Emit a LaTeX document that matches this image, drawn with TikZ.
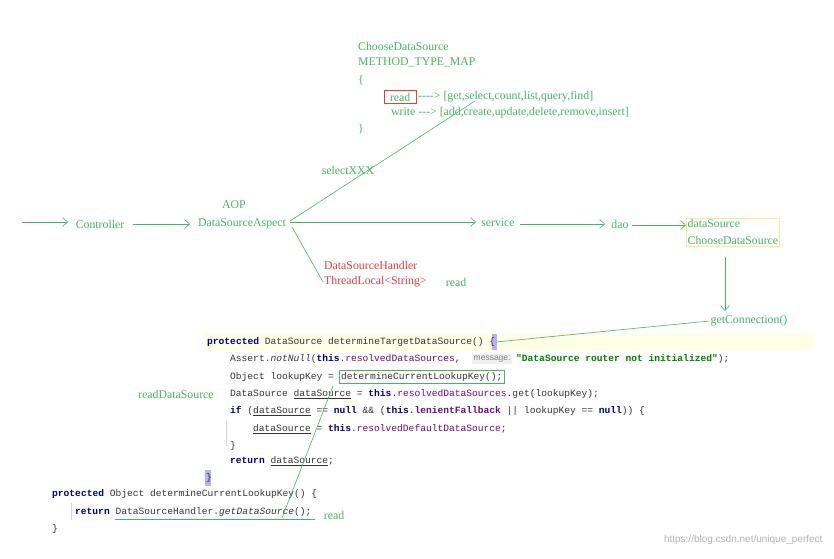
\documentclass[tikz,border=0pt]{standalone}
\usepackage{fontspec}
\setmainfont{Liberation Serif}
\setmonofont{Liberation Mono}
\newfontfamily\sansf{Liberation Sans}
\usetikzlibrary{arrows.meta}
\definecolor{gr}{RGB}{70,180,100}
\definecolor{rd}{RGB}{235,60,60}
\definecolor{kw}{RGB}{0,0,128}
\definecolor{fld}{RGB}{102,14,122}
\definecolor{str}{RGB}{0,128,0}
\begin{document}
\begin{tikzpicture}[x=1pt,y=-1pt,
 lbl/.style={text=gr,font=\fontsize{11.8}{13}\selectfont,inner sep=1pt},
 red/.style={text=rd,font=\fontsize{11.8}{13}\selectfont,inner sep=1pt,anchor=west},
 code/.style={font=\ttfamily\fontsize{9.6}{10}\selectfont,anchor=west,inner sep=0pt,text=black!80},
 con/.style={draw=gr,line width=0.6pt},
 arr/.style={con,-{Straight Barb[length=5pt,width=9pt]}}]
\useasboundingbox[fill=white] (0,0) rectangle (834,558);
% top block
\node[lbl,anchor=west] (cds) at (357,46) {ChooseDataSource};
\node[lbl,anchor=west] (mtm) at (357,62) {METHOD\_TYPE\_MAP};
\node[lbl,anchor=west] (ob) at (357,80) {\{};
\node[lbl,anchor=west,draw=rd,minimum height=13pt,minimum width=32pt,inner xsep=4pt] (rbox) at (384,97) {read};
\node[lbl,anchor=west] (rl) at (417,97) {{-}{-}{-}{-}> [get,select,count,list,query,find]};
\node[lbl,anchor=west] (wl) at (390,113) {write {-}{-}{-}> [add,create,update,delete,remove,insert]};
\node[lbl,anchor=west] (cb) at (357,129) {\}};
\node[lbl] (sx) at (348,170) {selectXXX};
\node[lbl] (aop) at (234,205) {AOP};
% main flow
\coordinate (start) at (22,222);
\node[lbl] (ctl) at (100,224) {Controller};
\node[lbl] (asp) at (242,224) {DataSourceAspect};
\node[lbl] (svc) at (498,223) {service};
\node[lbl] (dao) at (620,224) {dao};
\node[lbl,draw={rgb,255:red,250;green,235;blue,140},align=left,anchor=north west,inner sep=1.5pt,font=\fontsize{11.8}{16.5}\selectfont] (ds) at (686,218) {dataSource\\ChooseDataSource};
\node[lbl] (gc) at (749,321) {getConnection()};
\draw[arr] (start) -- (68,222);
\draw[arr] (133,224) -- (190,224);
\draw[arr] (290,222) -- (476,222);
\draw[arr] (520,224) -- (605,224);
\draw[arr] (632,225) -- (686,225);
\draw[arr] (725,257) -- (725,311);
\draw[con] (290,221) -- (475,101);
\node[red] (dsh) at (323,265) {DataSourceHandler};
\node[red] (tl) at (323,282) {ThreadLocal<String>};
\node[lbl] (rd2) at (456,282) {read};
\draw[con] (292,227) -- (tl.west);
% code
\fill[yellow!10] (205,333) rectangle (814,351);
\fill[blue!30] (492,334) rectangle (497,350);
\fill[blue!30] (205,470) rectangle (211,486);
\node[code] (l1) at (207,342) {\textcolor{kw}{\bfseries protected} DataSource determineTargetDataSource() \{};
\draw[con] (gc.west) -- (496,342);
\node[code] (l2) at (230,359) {Assert.\textit{notNull}(\textcolor{kw}{\bfseries this}.\textcolor{fld}{resolvedDataSources},};
\node[font=\sansf\fontsize{8.5}{9}\selectfont,fill=black!6,text=black!50,inner sep=1.5pt,anchor=west] (msg) at (472,359) {message:};
\node[code] (l2b) at (516,359) {\textcolor{str}{\bfseries "DataSource router not initialized"});};
\node[code] (l3) at (230,377) {Object lookupKey = };
\node[code,inner sep=2pt] (dclk) at (339,377) {determineCurrentLookupKey();};
\draw[gr,line width=0.6pt] (dclk.south west) rectangle (dclk.north east);
\node[code] (l4) at (230,394) {DataSource \underline{dataSource} = \textcolor{kw}{\bfseries this}.\textcolor{fld}{resolvedDataSources}.get(lookupKey);};
\node[code] (l5) at (230,411) {\textcolor{kw}{\bfseries if} (\underline{dataSource} == \textcolor{kw}{\bfseries null} \&\& (\textcolor{kw}{\bfseries this}.\textcolor{fld}{\bfseries lenientFallback} || lookupKey == \textcolor{kw}{\bfseries null})) \{};
\draw[black!15] (226,421) -- (226,446);
\node[code] (l6) at (253,429) {\underline{dataSource} = \textcolor{kw}{\bfseries this}.\textcolor{fld}{resolvedDefaultDataSource};};
\node[code] (l7) at (230,446) {\}};
\node[code] (l8) at (230,461) {\textcolor{kw}{\bfseries return} \underline{dataSource};};
\node[code] (l9) at (206,478) {\}};
\node[lbl] (rds) at (176,394) {readDataSource};
\node[code] (b1) at (52,494) {\textcolor{kw}{\bfseries protected} Object determineCurrentLookupKey() \{};
\node[code] (b2) at (75,512) {\textcolor{kw}{\bfseries return} DataSourceHandler.\textit{getDataSource}();};
\node[code] (b3) at (52,529) {\}};
\draw[black!15] (71,503) -- (71,520);
\coordinate (ul1) at (115,519);
\coordinate (ul2) at (315,519);
\draw[con] (ul1) -- (ul2);
\node[lbl] (rd3) at (334,515) {read};
\coordinate (dk) at (333,386);
\draw[con] (dk) -- (282,518);
\node[font=\sansf\fontsize{10}{10}\selectfont,text=black!30,anchor=east] (wm) at (826,540) {https://blog.csdn.net/unique\_perfect};
\end{tikzpicture}
\end{document}
